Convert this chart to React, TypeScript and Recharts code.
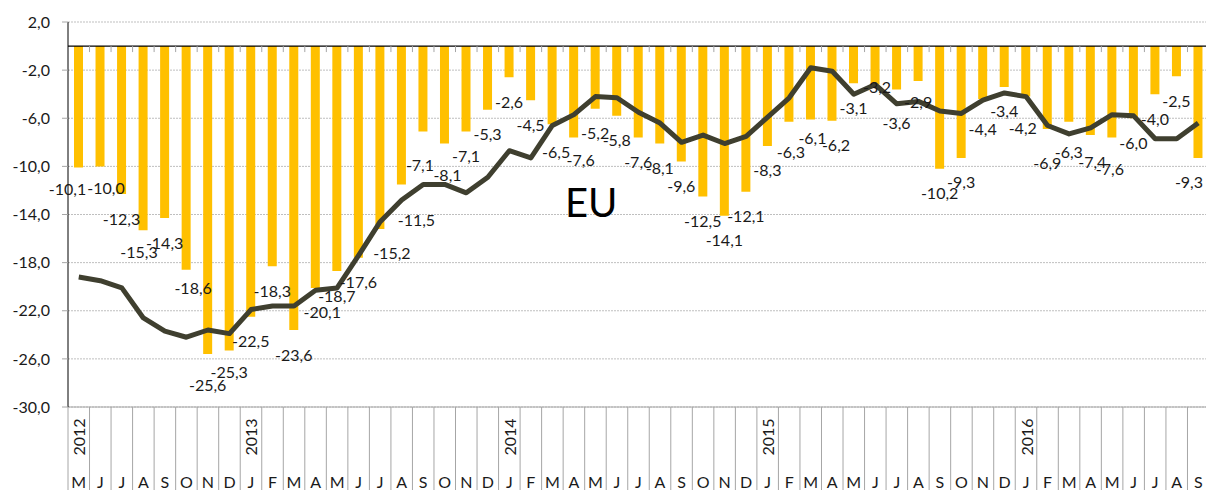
import {
  Bar,
  CartesianGrid,
  ComposedChart,
  LabelList,
  Line,
  ReferenceLine,
  XAxis,
  YAxis,
} from "recharts";

// months May 2012 .. Sep 2016
const months = [
  "M", "J", "J", "A", "S", "O", "N", "D",
  "J", "F", "M", "A", "M", "J", "J", "A", "S", "O", "N", "D",
  "J", "F", "M", "A", "M", "J", "J", "A", "S", "O", "N", "D",
  "J", "F", "M", "A", "M", "J", "J", "A", "S", "O", "N", "D",
  "J", "F", "M", "A", "M", "J", "J", "A", "S",
];

const yearStarts: Record<number, string> = {
  0: "2012",
  8: "2013",
  20: "2014",
  32: "2015",
  44: "2016",
};

const barValues = [
  -10.1, -10.0, -12.3, -15.3, -14.3, -18.6, -25.6, -25.3,
  -22.5, -18.3, -23.6, -20.1, -18.7, -17.6, -15.2, -11.5, -7.1, -8.1, -7.1, -5.3,
  -2.6, -4.5, -6.5, -7.6, -5.2, -5.8, -7.6, -8.1, -9.6, -12.5, -14.1, -12.1,
  -8.3, -6.3, -6.1, -6.2, -3.1, -3.2, -3.6, -2.9, -10.2, -9.3, -4.4, -3.4,
  -4.2, -6.9, -6.3, -7.4, -7.6, -6.0, -4.0, -2.5, -9.3,
];

const lineValues = [
  -19.2, -19.5, -20.1, -22.6, -23.7, -24.2, -23.6, -23.9,
  -21.9, -21.6, -21.6, -20.3, -20.1, -17.4, -14.6, -12.8, -11.5, -11.5, -12.2, -10.9,
  -8.7, -9.3, -6.6, -5.7, -4.2, -4.3, -5.5, -6.4, -8.0, -7.4, -8.1, -7.5,
  -5.9, -4.3, -1.8, -2.1, -4.0, -3.2, -4.8, -4.6, -5.4, -5.6, -4.5, -3.9,
  -4.2, -6.6, -7.3, -6.8, -5.7, -5.8, -7.7, -7.7, -6.4,
];

const yTicks = [2, -2, -6, -10, -14, -18, -22, -26, -30];

const data = months.map((m, i) => ({
  m,
  bar: barValues[i],
  line: lineValues[i],
}));

// layout
const CHART_W = 1214;
const CHART_H = 490;
const TOP = 22;
const Y_AXIS_W = 68;
const RIGHT = 5;
const X_AXIS_H = 83;
const PLOT_BOTTOM = CHART_H - X_AXIS_H;
const PLOT_H = PLOT_BOTTOM - TOP;
const BAND = (CHART_W - Y_AXIS_W - RIGHT) / months.length;
const ZERO_Y = TOP + (PLOT_H * 2) / 32;

const FONT = "Lato, 'Open Sans', sans-serif";
const TEXT = "#1A1A1A";
const GRID = "#A6A6A6";

// hand-placed data labels in the original (dx, dy from default spot)
const labelNudge: Record<number, [number, number]> = {
  0: [-11, -3], 1: [6, -3], 3: [-4, -3], 5: [7, -6], 6: [0, 6], 7: [0, -3],
  11: [7, 0], 14: [12, 0], 15: [15, 11], 16: [-3, 9], 17: [3, 7],
  22: [4, 3], 23: [7, -2], 33: [2, 6], 34: [2, -6], 35: [4, 0],
  37: [2, -22], 38: [0, 9], 39: [0, -3], 42: [0, 5], 44: [-3, 7],
  45: [0, 9], 46: [0, 6], 47: [2, 2], 48: [-2, 7], 52: [-9, 0],
};

const fmt = (v: number) => Number(v).toFixed(1).replace(".", ",");

const MonthTick = (props: any) => {
  const { x, payload } = props;
  const i = payload.index;
  const left = x - BAND / 2;
  return (
    <g>
      <line x1={left} x2={left} y1={PLOT_BOTTOM} y2={CHART_H} stroke={GRID} />
      {i > 0 && (
        <line x1={left} x2={left} y1={ZERO_Y} y2={ZERO_Y + 6} stroke={GRID} />
      )}
      {yearStarts[i] && (
        <text
          transform={`translate(${x},437) rotate(-90)`}
          textAnchor="middle"
          dominantBaseline="central"
          fontSize={16}
          fontFamily={FONT}
          fill={TEXT}
        >
          {yearStarts[i]}
        </text>
      )}
      <text
        x={x}
        y={488}
        textAnchor="middle"
        fontSize={16}
        fontFamily={FONT}
        fill={TEXT}
      >
        {payload.value}
      </text>
    </g>
  );
};

const renderBarLabel = (props: any) => {
  const { x, y, width, height, value, index } = props;
  const bottom = Math.max(Number(y), Number(y) + Number(height));
  const [dx, dy] = labelNudge[index] || [0, 0];
  return (
    <text
      x={Number(x) + Number(width) / 2 + dx}
      y={bottom + 24 + dy}
      textAnchor="middle"
      dominantBaseline="central"
      fontSize={16}
      fontFamily={FONT}
      fill={TEXT}
    >
      {fmt(value)}
    </text>
  );
};

export default function App() {
  return (
    <div
      style={{
        position: "absolute",
        left: 0,
        top: 0,
        width: 1206,
        height: CHART_H,
        overflow: "hidden",
        background: "#fff",
        fontFamily: FONT,
      }}
    >
      <ComposedChart
        width={CHART_W}
        height={CHART_H}
        data={data}
        margin={{ top: TOP, right: RIGHT, bottom: 0, left: 0 }}
      >
        <CartesianGrid
          horizontal
          vertical={false}
          stroke="#BFBFBF"
          strokeDasharray="2 1"
        />
        <XAxis
          dataKey="m"
          interval={0}
          height={X_AXIS_H}
          axisLine={{ stroke: GRID }}
          tickLine={false}
          tick={<MonthTick />}
        />
        <XAxis xAxisId="lbl" dataKey="m" hide />
        <YAxis
          width={Y_AXIS_W}
          domain={[-30, 2]}
          ticks={yTicks}
          interval={0}
          allowDataOverflow
          axisLine={{ stroke: "#000" }}
          tickLine={{ stroke: GRID }}
          tickSize={6}
          tickMargin={12}
          tickFormatter={fmt}
          tick={{ fontSize: 16, fill: TEXT, fontFamily: FONT }}
        />
        <ReferenceLine y={0} stroke="#000" strokeWidth={1.3} />
        <Bar
          dataKey="bar"
          fill="#FFC000"
          barSize={9}
          isAnimationActive={false}
        />
        <Line
          type="linear"
          dataKey="line"
          stroke="#3F3F2F"
          strokeWidth={5}
          dot={false}
          activeDot={false}
          strokeLinejoin="round"
          isAnimationActive={false}
        />
        <Bar
          xAxisId="lbl"
          dataKey="bar"
          fill="transparent"
          barSize={9}
          isAnimationActive={false}
        >
          <LabelList dataKey="bar" content={renderBarLabel} />
        </Bar>
      </ComposedChart>
      <svg
        width={1206}
        height={CHART_H}
        style={{ position: "absolute", left: 0, top: 0, pointerEvents: "none" }}
      >
        <text x={565} y={217} fontSize={40} fontFamily={FONT} fill="#000">
          EU
        </text>
      </svg>
    </div>
  );
}
